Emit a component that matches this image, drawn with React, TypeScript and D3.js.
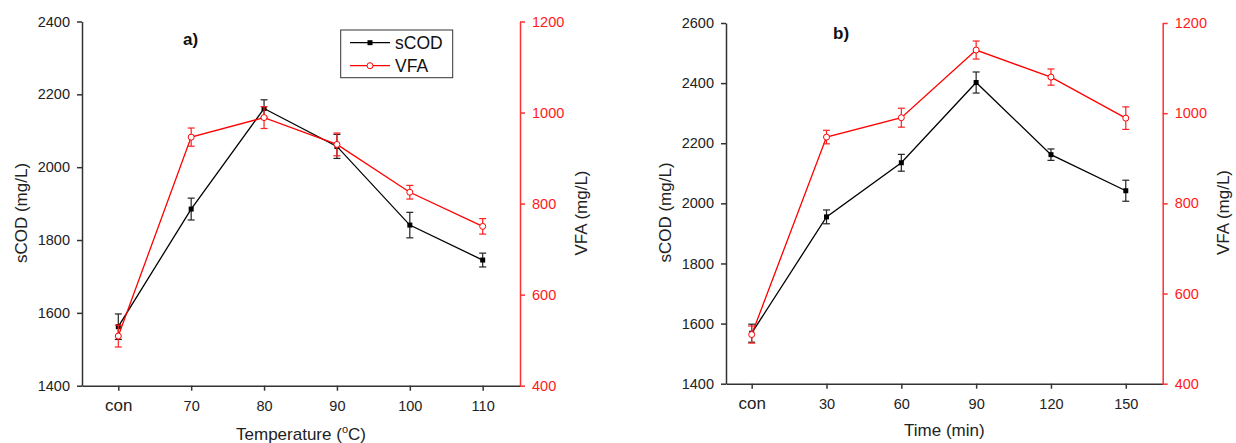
import React, { useEffect, useRef } from 'react';
import * as d3 from 'd3';

// Panel a) temperature series
const tempLabels = ['con', '70', '80', '90', '100', '110'];
const tempX = [60, 70, 80, 90, 100, 110];
const scodTemp = [1562, 1885, 2161, 2057, 1841, 1745];
const scodTempErr = [35, 30, 24, 33, 35, 19];
const vfaTemp = [509, 946, 989, 930, 825, 750];
const vfaTempErr = [24, 20, 24, 25, 15, 17];

// Panel b) time series
const timeLabels = ['con', '30', '60', '90', '120', '150'];
const timeX = [0, 30, 60, 90, 120, 150];
const scodTime = [1568, 1955, 2135, 2402, 2162, 2042];
const scodTimeErr = [30, 23, 28, 35, 19, 35];
const vfaTime = [509, 947, 990, 1140, 1080, 989];
const vfaTimeErr = [19, 15, 21, 20, 18, 25];

const scodTicksA = [1400, 1600, 1800, 2000, 2200, 2400];
const scodTicksB = [1400, 1600, 1800, 2000, 2200, 2400, 2600];
const vfaTicks = [400, 600, 800, 1000, 1200];

const FONT = '"Liberation Sans", Arial, sans-serif';

const App = () => {
    const svgRef = useRef(null);

    useEffect(() => {
        const svg = d3.select(svgRef.current);
        svg.selectAll('*').remove();
        const fmt = d3.format('d');

        const drawPanel = (cfg) => {
            const g = svg.append('g');
            const x = d3.scaleLinear().domain(cfg.xDomain).range([cfg.left, cfg.right]);
            const yL = d3.scaleLinear().domain(cfg.leftDomain).range([cfg.bottom, cfg.top]);
            const yR = d3.scaleLinear().domain([400, 1200]).range([cfg.bottom, cfg.top]);

            // bottom axis
            const xAxis = g.append('g')
                .attr('transform', `translate(0,${cfg.bottom})`)
                .call(d3.axisBottom(x)
                    .tickValues(cfg.xs)
                    .tickFormat((d, i) => cfg.labels[i])
                    .tickSize(5)
                    .tickSizeOuter(0)
                    .tickPadding(10));
            xAxis.selectAll('text')
                .attr('font-family', FONT)
                .attr('font-size', (d, i) => (i === 0 ? 17 : 14.5))
                .attr('dy', (d, i) => (i === 0 ? '0.62em' : '0.71em'))
                .attr('fill', '#222');

            // left axis
            const lAxis = g.append('g')
                .attr('transform', `translate(${cfg.left},0)`)
                .call(d3.axisLeft(yL).tickValues(cfg.leftTicks).tickFormat(fmt)
                    .tickSize(5).tickSizeOuter(0).tickPadding(7));
            lAxis.selectAll('text').attr('font-family', FONT).attr('font-size', 14.5).attr('fill', '#222');

            // right axis (red)
            const rAxis = g.append('g')
                .attr('transform', `translate(${cfg.right},0)`)
                .call(d3.axisRight(yR).tickValues(vfaTicks).tickFormat(fmt)
                    .tickSize(5).tickSizeOuter(0).tickPadding(7));
            rAxis.selectAll('text').attr('font-family', FONT).attr('font-size', 14.5).attr('fill', '#ff1a1a');
            rAxis.selectAll('line, path').attr('stroke', '#ff3030').attr('stroke-width', 1.5);

            xAxis.selectAll('line, path').attr('stroke', '#333').attr('stroke-width', 1.5);
            lAxis.selectAll('line, path').attr('stroke', '#333').attr('stroke-width', 1.5);

            const series = [
                { vals: cfg.scod, err: cfg.scodErr, y: yL, color: '#000', errColor: '#222', marker: 'square' },
                { vals: cfg.vfa, err: cfg.vfaErr, y: yR, color: '#ff0000', errColor: '#ff2020', marker: 'circle' },
            ];

            series.forEach(s => {
                const line = d3.line().x((d, i) => x(cfg.xs[i])).y(d => s.y(d));
                g.append('path')
                    .datum(s.vals)
                    .attr('d', line)
                    .attr('fill', 'none')
                    .attr('stroke', s.color)
                    .attr('stroke-width', 1.3);

                // error bars
                s.vals.forEach((v, i) => {
                    const cx = x(cfg.xs[i]);
                    const y1 = s.y(v - s.err[i]);
                    const y2 = s.y(v + s.err[i]);
                    const eb = g.append('g').attr('stroke', s.errColor).attr('stroke-width', 1.2);
                    eb.append('line').attr('x1', cx).attr('x2', cx).attr('y1', y1).attr('y2', y2);
                    eb.append('line').attr('x1', cx - 3.5).attr('x2', cx + 3.5).attr('y1', y1).attr('y2', y1);
                    eb.append('line').attr('x1', cx - 3.5).attr('x2', cx + 3.5).attr('y1', y2).attr('y2', y2);
                });

                // markers
                s.vals.forEach((v, i) => {
                    const cx = x(cfg.xs[i]);
                    const cy = s.y(v);
                    if (s.marker === 'square') {
                        g.append('rect')
                            .attr('x', cx - 2.5).attr('y', cy - 2.5)
                            .attr('width', 5).attr('height', 5)
                            .attr('fill', '#000');
                    } else {
                        g.append('circle')
                            .attr('cx', cx).attr('cy', cy).attr('r', 3)
                            .attr('fill', '#fff')
                            .attr('stroke', '#ff0000')
                            .attr('stroke-width', 1);
                    }
                });
            });

            // axis titles
            g.append('text')
                .attr('transform', `translate(${cfg.lTitleX},${cfg.titleY}) rotate(-90)`)
                .attr('text-anchor', 'middle')
                .attr('dy', '0.35em')
                .attr('font-family', FONT)
                .attr('font-size', 17)
                .attr('fill', '#222')
                .text('sCOD (mg/L)');
            g.append('text')
                .attr('transform', `translate(${cfg.rTitleX},${cfg.titleY}) rotate(-90)`)
                .attr('text-anchor', 'middle')
                .attr('dy', '0.35em')
                .attr('font-family', FONT)
                .attr('font-size', 17)
                .attr('fill', '#222')
                .text('VFA (mg/L)');

            const xt = g.append('text')
                .attr('x', (cfg.left + cfg.right) / 2)
                .attr('y', cfg.xTitleY)
                .attr('text-anchor', 'middle')
                .attr('font-family', FONT)
                .attr('font-size', 17)
                .attr('fill', '#222');
            if (cfg.degree) {
                xt.append('tspan').text('Temperature (');
                xt.append('tspan').attr('font-size', 11).attr('dy', -7).text('o');
                xt.append('tspan').attr('dy', 7).text('C)');
            } else {
                xt.text(cfg.xTitle);
            }

            // panel label
            g.append('text')
                .attr('x', cfg.tagX)
                .attr('y', cfg.tagY)
                .attr('font-family', FONT)
                .attr('font-size', 17)
                .attr('font-weight', 'bold')
                .attr('fill', '#111')
                .text(cfg.tag);

            return g;
        };

        drawPanel({
            left: 82, right: 520, top: 21.5, bottom: 385.7,
            xDomain: [55.02, 115.12], leftDomain: [1400, 2400], leftTicks: scodTicksA,
            xs: tempX, labels: tempLabels,
            scod: scodTemp, scodErr: scodTempErr, vfa: vfaTemp, vfaErr: vfaTempErr,
            lTitleX: 21, rTitleX: 581, titleY: 213, xTitleY: 440, degree: true,
            tag: 'a)', tagX: 183, tagY: 45,
        });

        drawPanel({
            left: 726, right: 1162.7, top: 23, bottom: 383.7,
            xDomain: [-10.3, 164.8], leftDomain: [1400, 2600], leftTicks: scodTicksB,
            xs: timeX, labels: timeLabels,
            scod: scodTime, scodErr: scodTimeErr, vfa: vfaTime, vfaErr: vfaTimeErr,
            lTitleX: 665, rTitleX: 1223, titleY: 212.5, xTitleY: 436, degree: false, xTitle: 'Time (min)',
            tag: 'b)', tagX: 833, tagY: 39,
        });

        // legend (panel a)
        const lg = svg.append('g');
        lg.append('rect')
            .attr('x', 340.7).attr('y', 30).attr('width', 112).attr('height', 47.7)
            .attr('fill', '#fff').attr('stroke', '#333').attr('stroke-width', 1);
        const items = [
            { name: 'sCOD', y: 42.7, color: '#000', marker: 'square' },
            { name: 'VFA', y: 65.7, color: '#ff0000', marker: 'circle' },
        ];
        items.forEach(it => {
            lg.append('line')
                .attr('x1', 350).attr('x2', 390).attr('y1', it.y).attr('y2', it.y)
                .attr('stroke', it.color).attr('stroke-width', 1.3);
            if (it.marker === 'square') {
                lg.append('rect').attr('x', 367.5).attr('y', it.y - 2.5).attr('width', 5).attr('height', 5).attr('fill', '#000');
            } else {
                lg.append('circle').attr('cx', 370).attr('cy', it.y).attr('r', 3)
                    .attr('fill', '#fff').attr('stroke', '#ff0000').attr('stroke-width', 1);
            }
            lg.append('text')
                .attr('x', 395).attr('y', it.y + 6.3)
                .attr('font-family', FONT).attr('font-size', 17.5).attr('fill', '#111')
                .text(it.name);
        });
    }, []);

    return (
        <svg
            ref={svgRef}
            width={1236}
            height={443}
            style={{ position: 'absolute', left: 0, top: 0, background: '#fff' }}
        />
    );
};

export default App;
